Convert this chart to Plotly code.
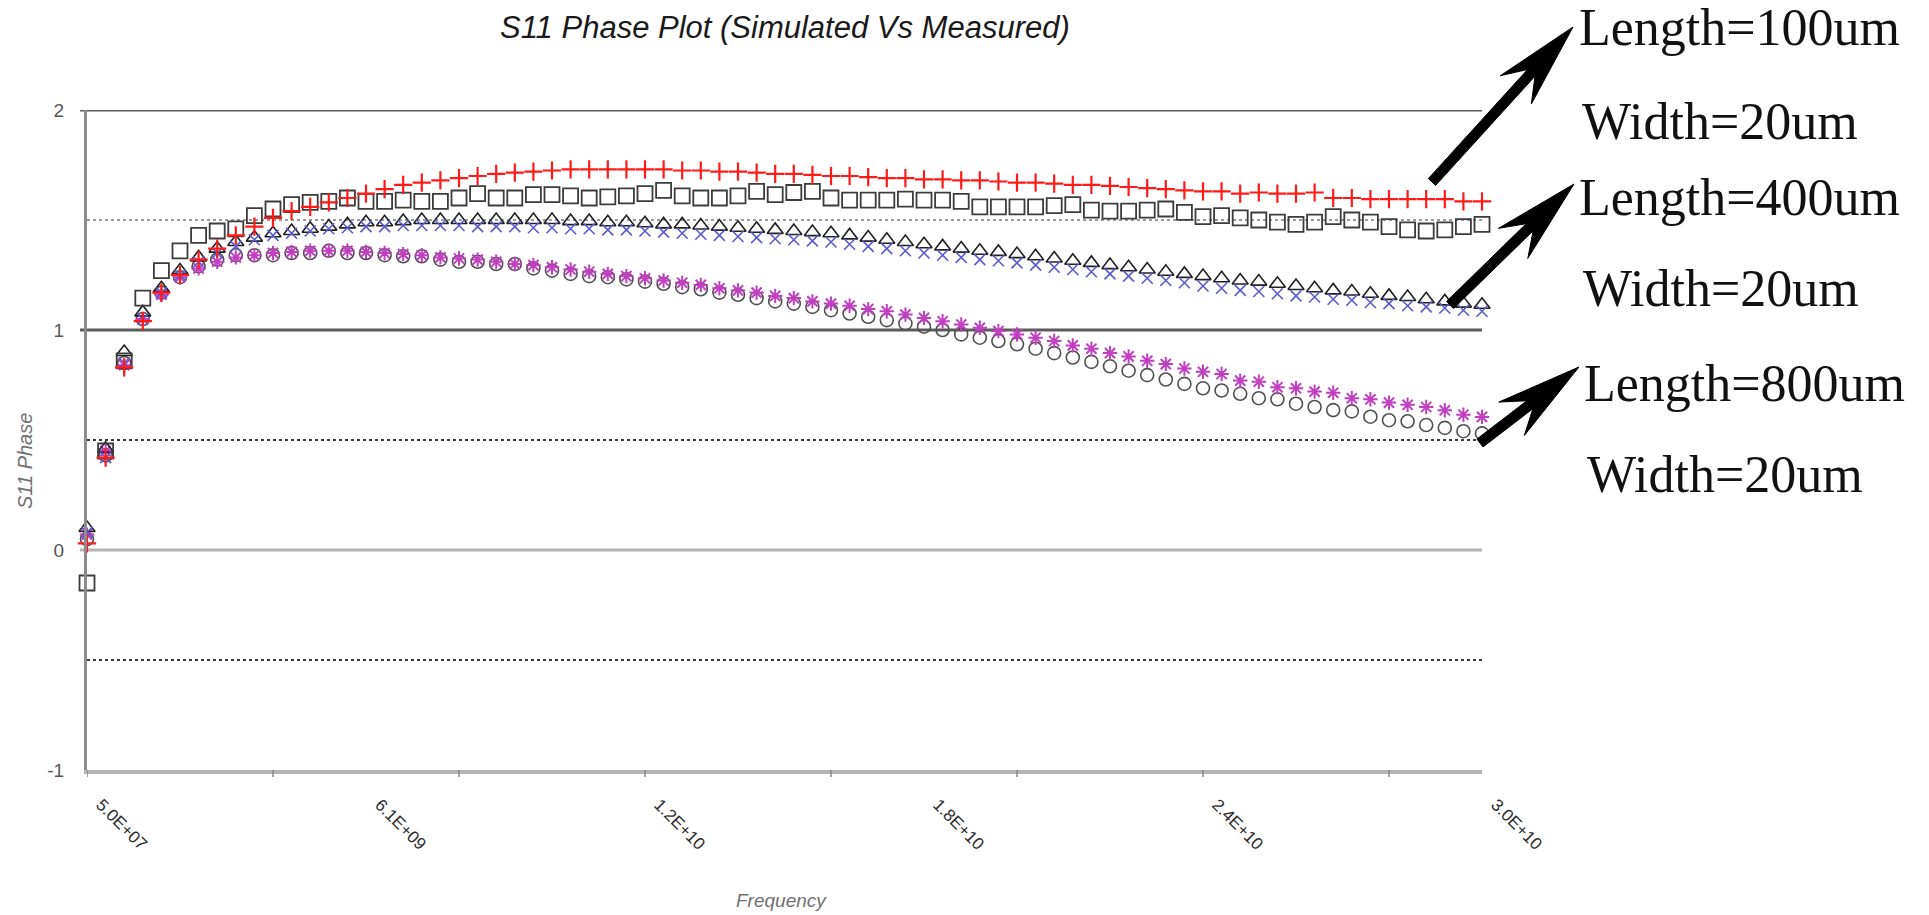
import math
import plotly.graph_objects as go

# ---------------- data ----------------
freq_ghz = [0.05, 0.45, 0.85, 1.25, 1.65, 2.05, 2.45, 2.85, 3.25, 3.65,
            4.05, 4.45, 4.85, 5.25, 5.65, 6.05, 6.45, 6.85, 7.25, 7.65,
            8.05, 8.45, 8.85, 9.25, 9.65, 10.05, 10.45, 10.85, 11.25, 11.65,
            12.05, 12.45, 12.85, 13.25, 13.65, 14.05, 14.45, 14.85, 15.25, 15.65,
            16.05, 16.45, 16.85, 17.25, 17.65, 18.05, 18.45, 18.85, 19.25, 19.65,
            20.05, 20.45, 20.85, 21.25, 21.65, 22.05, 22.45, 22.85, 23.25, 23.65,
            24.05, 24.45, 24.85, 25.25, 25.65, 26.05, 26.45, 26.85, 27.25, 27.65,
            28.05, 28.45, 28.85, 29.25, 29.65, 30.05]

tick_freq_ghz = [0.05, 6.05, 12.05, 18.05, 24.05, 30.05]
tick_text = ["5.0E+07", "6.1E+09", "1.2E+10", "1.8E+10", "2.4E+10", "3.0E+10"]
minor_tick_ghz = [4.05, 8.05, 12.05, 16.05, 20.05, 24.05, 28.05]

y_ticks = [-1, 0, 1, 2]
y_tick_text = ["-1", "0", "1", "2"]
solid_grid = [2, 1, 0]
dotted_grid = [1.5, 0.5, -0.5]

# Length = 100 um
plus_100 = [0.03, 0.42, 0.83, 1.04, 1.17, 1.25, 1.32, 1.37, 1.43, 1.47,
            1.51, 1.54, 1.56, 1.58, 1.60, 1.62, 1.64, 1.66, 1.67, 1.68,
            1.69, 1.70, 1.71, 1.715, 1.72, 1.725, 1.73, 1.73, 1.73, 1.73,
            1.73, 1.73, 1.725, 1.725, 1.72, 1.72, 1.715, 1.71, 1.71, 1.705,
            1.70, 1.70, 1.695, 1.69, 1.69, 1.685, 1.685, 1.68, 1.68, 1.675,
            1.67, 1.67, 1.665, 1.66, 1.66, 1.655, 1.65, 1.645, 1.64, 1.635,
            1.63, 1.63, 1.62, 1.625, 1.62, 1.62, 1.625, 1.60, 1.60, 1.595,
            1.595, 1.595, 1.595, 1.595, 1.585, 1.585]
square_100 = [-0.15, 0.45, 0.86, 1.145, 1.27, 1.36, 1.43, 1.45, 1.46, 1.52,
              1.55, 1.57, 1.58, 1.585, 1.60, 1.585, 1.585, 1.59, 1.585, 1.585,
              1.60, 1.62, 1.60, 1.60, 1.615, 1.615, 1.61, 1.60, 1.605, 1.61,
              1.62, 1.635, 1.61, 1.60, 1.60, 1.61, 1.63, 1.615, 1.625, 1.63,
              1.60, 1.59, 1.59, 1.59, 1.595, 1.59, 1.59, 1.585, 1.56, 1.56,
              1.56, 1.56, 1.565, 1.57, 1.545, 1.54, 1.54, 1.545, 1.55, 1.535,
              1.515, 1.52, 1.51, 1.50, 1.49, 1.48, 1.49, 1.515, 1.50, 1.49,
              1.47, 1.455, 1.45, 1.455, 1.47, 1.48]

# Length = 400 um
triangle_400 = [0.10, 0.46, 0.90, 1.08, 1.19, 1.27, 1.33, 1.37, 1.40, 1.42,
                1.44, 1.45, 1.46, 1.47, 1.48, 1.49, 1.49, 1.495, 1.50, 1.50,
                1.50, 1.50, 1.50, 1.50, 1.50, 1.50, 1.495, 1.495, 1.49, 1.49,
                1.485, 1.48, 1.48, 1.475, 1.47, 1.465, 1.46, 1.455, 1.45, 1.445,
                1.44, 1.43, 1.42, 1.41, 1.40, 1.39, 1.38, 1.37, 1.36, 1.355,
                1.345, 1.335, 1.325, 1.315, 1.305, 1.295, 1.285, 1.275, 1.265, 1.255,
                1.245, 1.235, 1.225, 1.22, 1.21, 1.20, 1.19, 1.18, 1.175, 1.165,
                1.155, 1.15, 1.14, 1.13, 1.12, 1.115]
cross_400 = [0.08, 0.42, 0.85, 1.05, 1.17, 1.25, 1.31, 1.35, 1.38, 1.41,
             1.43, 1.44, 1.45, 1.46, 1.465, 1.47, 1.47, 1.475, 1.475, 1.475,
             1.475, 1.47, 1.47, 1.47, 1.465, 1.465, 1.46, 1.46, 1.455, 1.455,
             1.45, 1.445, 1.44, 1.435, 1.43, 1.425, 1.42, 1.415, 1.41, 1.405,
             1.40, 1.39, 1.38, 1.37, 1.36, 1.35, 1.34, 1.33, 1.32, 1.315,
             1.305, 1.295, 1.285, 1.275, 1.265, 1.255, 1.245, 1.235, 1.225, 1.215,
             1.20, 1.19, 1.18, 1.175, 1.165, 1.155, 1.15, 1.14, 1.135, 1.125,
             1.12, 1.11, 1.105, 1.10, 1.09, 1.085]

# Length = 800 um
circle_800 = [0.05, 0.43, 0.85, 1.05, 1.17, 1.24, 1.29, 1.32, 1.34, 1.34,
              1.34, 1.35, 1.35, 1.36, 1.35, 1.35, 1.34, 1.335, 1.335, 1.32,
              1.31, 1.31, 1.30, 1.30, 1.28, 1.27, 1.255, 1.245, 1.24, 1.23,
              1.22, 1.21, 1.195, 1.185, 1.17, 1.16, 1.145, 1.13, 1.12, 1.105,
              1.09, 1.075, 1.06, 1.045, 1.03, 1.015, 1.00, 0.98, 0.965, 0.95,
              0.935, 0.915, 0.895, 0.875, 0.855, 0.835, 0.815, 0.795, 0.775, 0.755,
              0.735, 0.725, 0.71, 0.69, 0.685, 0.665, 0.65, 0.636, 0.63, 0.606,
              0.59, 0.585, 0.568, 0.555, 0.54, 0.53]
star_800 = [0.07, 0.45, 0.84, 1.05, 1.16, 1.24, 1.28, 1.31, 1.33, 1.34,
            1.35, 1.355, 1.36, 1.36, 1.36, 1.355, 1.35, 1.345, 1.34, 1.33,
            1.325, 1.32, 1.31, 1.30, 1.295, 1.285, 1.275, 1.265, 1.255, 1.245,
            1.235, 1.225, 1.215, 1.205, 1.19, 1.18, 1.17, 1.155, 1.145, 1.13,
            1.12, 1.11, 1.095, 1.085, 1.07, 1.055, 1.04, 1.025, 1.01, 0.995,
            0.98, 0.965, 0.95, 0.93, 0.915, 0.895, 0.88, 0.86, 0.845, 0.825,
            0.81, 0.80, 0.77, 0.765, 0.74, 0.735, 0.72, 0.715, 0.69, 0.685,
            0.67, 0.66, 0.65, 0.635, 0.615, 0.605]

label_texts = ["Length=100um", "Width=20um", "Length=400um", "Width=20um",
               "Length=800um", "Width=20um"]

# ---------------- layout geometry ----------------
W, H = 1929, 915
L, R, T, B = 87, 447, 110, 145
PW, PH = W - L - R, H - T - B


def paper(px, py):
    return (px - L) / PW, (H - B - py) / PH


fig = go.Figure()

series = [
    (circle_800, dict(symbol="circle-open", size=13, color="#505050", line=dict(width=1.6, color="#505050"))),
    (star_800, dict(symbol="asterisk-open", size=12, color="#c040c0", line=dict(width=2, color="#c040c0"))),
    (triangle_400, dict(symbol="triangle-up-open", size=14, color="#202020", line=dict(width=1.6, color="#202020"))),
    (cross_400, dict(symbol="x-thin-open", size=11, color="#5a5ad0", line=dict(width=1.6, color="#5a5ad0"))),
    (square_100, dict(symbol="square-open", size=15, color="#3c3c3c", line=dict(width=1.8, color="#3c3c3c"))),
    (plus_100, dict(symbol="cross-thin-open", size=13, color="#ff1a1a", line=dict(width=2.2, color="#ff1a1a"))),
]
for ys, mk in series:
    fig.add_trace(go.Scatter(x=freq_ghz, y=ys, mode="markers", marker=mk,
                             cliponaxis=False, showlegend=False, hoverinfo="skip"))

shapes = []
for g in solid_grid:
    col = "#5a5a5a" if g != 0 else "#b4b4b4"
    shapes.append(dict(type="line", xref="paper", yref="y", x0=-0.005, x1=1, y0=g, y1=g,
                       line=dict(color=col, width=3), layer="below"))
for g in dotted_grid:
    col = "#9a9a9a" if g == 1.5 else "#3a3a3a"
    shapes.append(dict(type="line", xref="paper", yref="y", x0=0, x1=1, y0=g, y1=g,
                       line=dict(color=col, width=2, dash="dot"), layer="below"))
for t in [freq_ghz[0]] + minor_tick_ghz:
    shapes.append(dict(type="line", xref="x", yref="paper", x0=t, x1=t, y0=0, y1=-7 / PH,
                       line=dict(color="#8a8a8a", width=1.5)))

# arrows (tail -> tip, pixel coords of the picture)
arrows = [((1432, 182), (1573, 27)), ((1450, 305), (1574, 184)), ((1480, 443), (1579, 367))]
for (tx, ty), (hx, hy) in arrows:
    dx, dy = hx - tx, hy - ty
    d = math.hypot(dx, dy)
    ux, uy = dx / d, dy / d
    nx, ny = -uy, ux
    w, hl, notch, hw = 5.0, 85.0, 62.0, 21.0
    pts = [
        (tx + nx * w, ty + ny * w),
        (hx - ux * notch + nx * w, hy - uy * notch + ny * w),
        (hx - ux * hl + nx * hw, hy - uy * hl + ny * hw),
        (hx, hy),
        (hx - ux * hl - nx * hw, hy - uy * hl - ny * hw),
        (hx - ux * notch - nx * w, hy - uy * notch - ny * w),
        (tx - nx * w, ty - ny * w),
    ]
    path = "M " + " L ".join("%.5f,%.5f" % paper(px, py) for px, py in pts) + " Z"
    shapes.append(dict(type="path", xref="paper", yref="paper", path=path,
                       fillcolor="black", line=dict(color="black", width=1)))

annotations = [
    dict(text="S11 Phase Plot (Simulated Vs Measured)", xref="paper", yref="paper",
         x=0.5, y=paper(0, 27)[1], showarrow=False, xanchor="center", yanchor="middle",
         font=dict(family="Arial, Liberation Sans", size=31, color="#1a1a1a", style="italic")),
    dict(text="S11 Phase", xref="paper", yref="paper", x=paper(25, 0)[0], y=paper(0, 461)[1],
         showarrow=False, textangle=-90, xanchor="center", yanchor="middle",
         font=dict(family="Arial, Liberation Sans", size=20, color="#707070", style="italic")),
    dict(text="Frequency", xref="paper", yref="paper", x=paper(781, 0)[0], y=paper(0, 900)[1],
         showarrow=False, xanchor="center", yanchor="middle",
         font=dict(family="Arial, Liberation Sans", size=19, color="#707070", style="italic")),
]
label_pos = [(1577, 28), (1580, 121), (1577, 197), (1581, 288), (1582, 383), (1585, 474)]
for txt, (lx, ly) in zip(label_texts, label_pos):
    xp, yp = paper(lx, ly)
    annotations.append(dict(text=txt, xref="paper", yref="paper", x=xp, y=yp, showarrow=False,
                            xanchor="left", yanchor="middle",
                            font=dict(family="Times New Roman, Liberation Serif, serif",
                                      size=52, color="#111111")))

fig.update_layout(
    width=W, height=H, autosize=False,
    margin=dict(l=L, r=R, t=T, b=B, pad=0),
    paper_bgcolor="white", plot_bgcolor="white",
    shapes=shapes, annotations=annotations,
    xaxis=dict(range=[freq_ghz[0], freq_ghz[-1]], tickmode="array", tickvals=tick_freq_ghz,
               ticktext=tick_text, tickangle=45, showgrid=False, zeroline=False,
               showline=True, linecolor="#b4b4b4", linewidth=4, ticks="",
               ticklabelstandoff=14, ticklabelshift=14,
               tickfont=dict(family="Arial, Liberation Sans", size=17, color="#2a2a2a")),
    yaxis=dict(range=[-1, 2], tickmode="array", tickvals=y_ticks, ticktext=y_tick_text,
               showgrid=False, zeroline=False, showline=True, linecolor="#8c8c8c",
               linewidth=3, ticks="", ticklabelstandoff=16,
               tickfont=dict(family="Arial, Liberation Sans", size=19, color="#555555")),
)

fig.write_html("out.html", config={"displayModeBar": False},
               post_script="document.body.style.margin='0';document.body.style.overflow='hidden';")
